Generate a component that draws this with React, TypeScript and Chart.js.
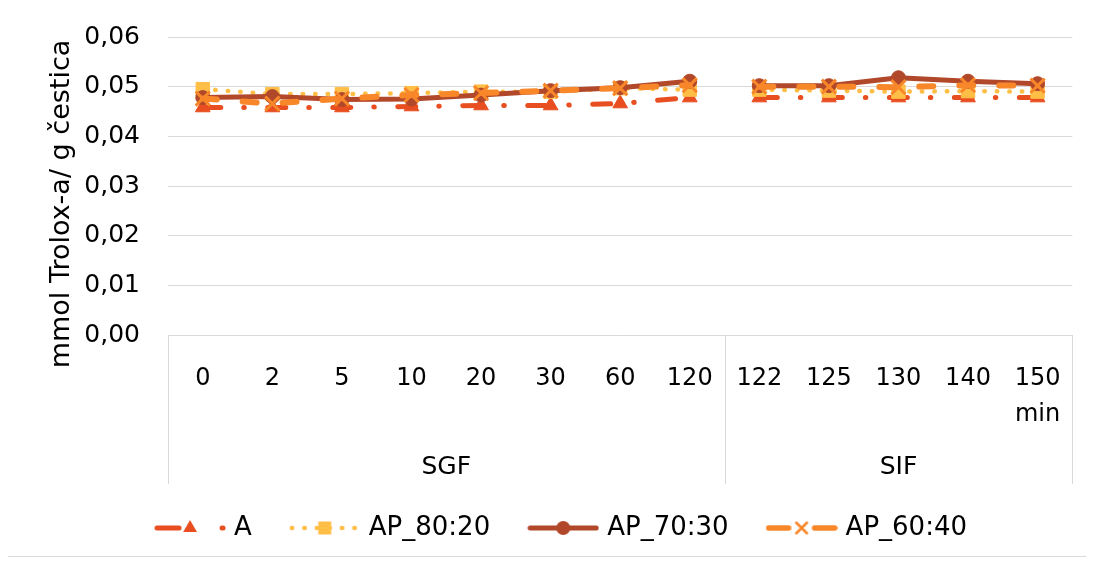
import React, { useEffect, useRef } from 'react';
import { Chart, registerables } from 'chart.js';

Chart.register(...registerables);

// ---------- data ----------
const CATEGORIES = ['0', '2', '5', '10', '20', '30', '60', '120', '122', '125', '130', '140', '150'];
const UNIT_LABEL = 'min';
const GROUP_LABELS = ['SGF', 'SIF'];
const GROUP_SIZES = [8, 5];
const Y_TICK_LABELS = ['0,00', '0,01', '0,02', '0,03', '0,04', '0,05', '0,06'];
const Y_TITLE = 'mmol Trolox-a/ g čestica';

const SERIES_LABELS = ['A', 'AP_80:20', 'AP_70:30', 'AP_60:40'];
const A_VALUES = [0.0458, 0.0458, 0.0458, 0.0460, 0.0462, 0.0462, 0.0466, 0.0478, 0.0478, 0.0478, 0.0478, 0.0478, 0.0478];
const AP80_VALUES = [0.0495, 0.0485, 0.0485, 0.0487, 0.0490, 0.0490, 0.0497, 0.0494, 0.0494, 0.0492, 0.0490, 0.0491, 0.0490];
const AP70_VALUES = [0.0478, 0.0480, 0.0474, 0.0475, 0.0483, 0.0492, 0.0498, 0.0511, 0.0502, 0.0502, 0.0518, 0.0511, 0.0506];
const AP60_VALUES = [0.0476, 0.0466, 0.0476, 0.0483, 0.0487, 0.0492, 0.0497, 0.0503, 0.0500, 0.0500, 0.0499, 0.0503, 0.0502];
const SERIES_VALUES = [A_VALUES, AP80_VALUES, AP70_VALUES, AP60_VALUES];

// ---------- styles ----------
const FONT = 'DejaVu Sans';
const GRID = '#d9d9d9';
const STYLES = [
  { color: '#E84E20', width: 5, dash: [18, 23, 0.5, 23.5], legendDash: [22, 43, 1, 100], point: 'triangle', radius: 8.5, pointBorder: 1 },
  { color: '#FFBF47', width: 4.5, dash: [0.5, 12], legendDash: [0.5, 12], point: 'rect', radius: 9.5, pointBorder: 1 },
  { color: '#B2482A', width: 5, dash: [] as number[], legendDash: [] as number[], point: 'circle', radius: 7, pointBorder: 1 },
  { color: '#F8872A', width: 6, dash: [14, 26], legendDash: [20, 26], point: 'crossRot', radius: 10, pointBorder: 3 },
];

function makeLegendImage(s: typeof STYLES[number]): HTMLCanvasElement {
  const c = document.createElement('canvas');
  c.width = 72;
  c.height = 26;
  const g = c.getContext('2d')!;
  const cx = 36;
  const cy = 13;
  g.strokeStyle = s.color;
  g.fillStyle = s.color;
  g.lineWidth = Math.min(s.width, 5.5);
  g.lineCap = 'round';
  g.setLineDash(s.legendDash);
  g.beginPath();
  g.moveTo(3, cy);
  g.lineTo(69, cy);
  g.stroke();
  g.setLineDash([]);
  g.beginPath();
  if (s.point === 'triangle') {
    const r = 8;
    g.moveTo(cx, cy - r);
    g.lineTo(cx + r * Math.sin((2 * Math.PI) / 3), cy + r / 2);
    g.lineTo(cx - r * Math.sin((2 * Math.PI) / 3), cy + r / 2);
    g.closePath();
    g.fill();
  } else if (s.point === 'rect') {
    g.rect(cx - 6.5, cy - 6.5, 13, 13);
    g.fill();
  } else if (s.point === 'circle') {
    g.arc(cx, cy, 7, 0, Math.PI * 2);
    g.fill();
  } else {
    g.lineWidth = 2.5;
    g.lineCap = 'butt';
    g.moveTo(cx - 6, cy - 6);
    g.lineTo(cx + 6, cy + 6);
    g.moveTo(cx + 6, cy - 6);
    g.lineTo(cx - 6, cy + 6);
    g.stroke();
  }
  return c;
}

const decorPlugin = {
  id: 'decor',
  afterDraw(chart: any) {
    const { ctx, chartArea, scales } = chart;
    const x = scales.x;
    const n = CATEGORIES.length;
    const catW = (chartArea.right - chartArea.left) / n;
    const top = chartArea.bottom;
    const bottom = top + 149;
    ctx.save();
    // group separators
    const bounds: number[] = [];
    let idx = 0;
    bounds.push(x.getPixelForValue(0) - catW / 2);
    GROUP_SIZES.forEach((sz) => {
      idx += sz;
      bounds.push(x.getPixelForValue(idx - 1) + catW / 2);
    });
    ctx.strokeStyle = GRID;
    ctx.lineWidth = 1;
    bounds.forEach((b) => {
      const px = Math.round(b) + 0.5;
      ctx.beginPath();
      ctx.moveTo(px, top);
      ctx.lineTo(px, bottom);
      ctx.stroke();
    });
    // group labels
    ctx.fillStyle = '#000';
    ctx.font = `25px "${FONT}"`;
    ctx.textAlign = 'center';
    ctx.textBaseline = 'middle';
    GROUP_LABELS.forEach((lab, i) => {
      const cx = (bounds[i] + bounds[i + 1]) / 2;
      ctx.fillText(lab, cx, top + 132);
    });
    // y title
    ctx.translate(chartArea.left - 106, chartArea.top + 167);
    ctx.rotate(-Math.PI / 2);
    ctx.font = `27px "${FONT}"`;
    ctx.fillText(Y_TITLE, 0, 0);
    ctx.restore();
  },
};

export default function App() {
  const ref = useRef<HTMLCanvasElement | null>(null);

  useEffect(() => {
    if (!ref.current) return;
    const legendImages = STYLES.map(makeLegendImage);
    const gapAfter = GROUP_SIZES[0] - 1;
    const labels = CATEGORIES.map((c, i) => (i === CATEGORIES.length - 1 ? [c, UNIT_LABEL] : c));

    const datasets = SERIES_LABELS.map((label, i) => {
      const s = STYLES[i];
      return {
        label,
        data: SERIES_VALUES[i],
        borderColor: s.color,
        backgroundColor: s.color,
        borderWidth: s.width,
        borderDash: s.dash,
        borderCapStyle: 'round',
        borderJoinStyle: 'round',
        pointStyle: s.point,
        pointRadius: s.radius,
        pointHoverRadius: s.radius,
        pointBackgroundColor: s.color,
        pointBorderColor: s.color,
        pointBorderWidth: s.pointBorder,
        tension: 0,
        fill: false,
        order: SERIES_LABELS.length - i,
        segment: {
          borderColor: (ctx: any) => (ctx.p0DataIndex === gapAfter ? 'rgba(0,0,0,0)' : undefined),
        },
      };
    });

    const chart = new Chart(ref.current, {
      type: 'line',
      data: { labels, datasets: datasets as any },
      plugins: [decorPlugin],
      options: {
        animation: false,
        responsive: true,
        maintainAspectRatio: false,
        layout: { padding: { left: 43, right: 12, top: 29, bottom: 5 } },
        plugins: {
          tooltip: { enabled: false },
          legend: {
            position: 'bottom',
            labels: {
              usePointStyle: true,
              pointStyleWidth: 62,
              padding: 42,
              color: '#000',
              font: { family: FONT, size: 26 },
              generateLabels: () =>
                SERIES_LABELS.map((text, i) => ({
                  text,
                  pointStyle: legendImages[i] as any,
                  datasetIndex: i,
                  fillStyle: 'rgba(0,0,0,0)',
                  strokeStyle: 'rgba(0,0,0,0)',
                  lineWidth: 0,
                  hidden: false,
                  fontColor: '#000',
                })),
            },
          },
        },
        scales: {
          x: {
            type: 'category',
            offset: true,
            grid: { display: false, drawTicks: false },
            border: { display: false },
            ticks: {
              autoSkip: false,
              maxRotation: 0,
              padding: 26,
              color: '#000',
              font: { family: FONT, size: 24, lineHeight: 1.5 },
            },
            afterFit: (scale: any) => {
              scale.height = 138;
            },
          },
          y: {
            min: 0,
            max: 0.06,
            grid: { color: GRID, lineWidth: 1, drawTicks: true, tickLength: 28, tickColor: 'rgba(0,0,0,0)' },
            border: { display: false },
            ticks: {
              stepSize: 0.01,
              padding: 0,
              color: '#000',
              font: { family: FONT, size: 25 },
              callback: (_v: any, i: number) => Y_TICK_LABELS[i],
            },
            afterFit: (scale: any) => {
              scale.width = 117;
            },
          },
        },
      },
    });
    return () => chart.destroy();
  }, []);

  return (
    <div
      style={{
        position: 'relative',
        width: 1081,
        height: 550,
        border: '1px solid #d9d9d9',
        boxSizing: 'border-box',
        margin: '-1px 0 0 -1px',
        background: '#fff',
      }}
    >
      <canvas ref={ref} />
    </div>
  );
}
